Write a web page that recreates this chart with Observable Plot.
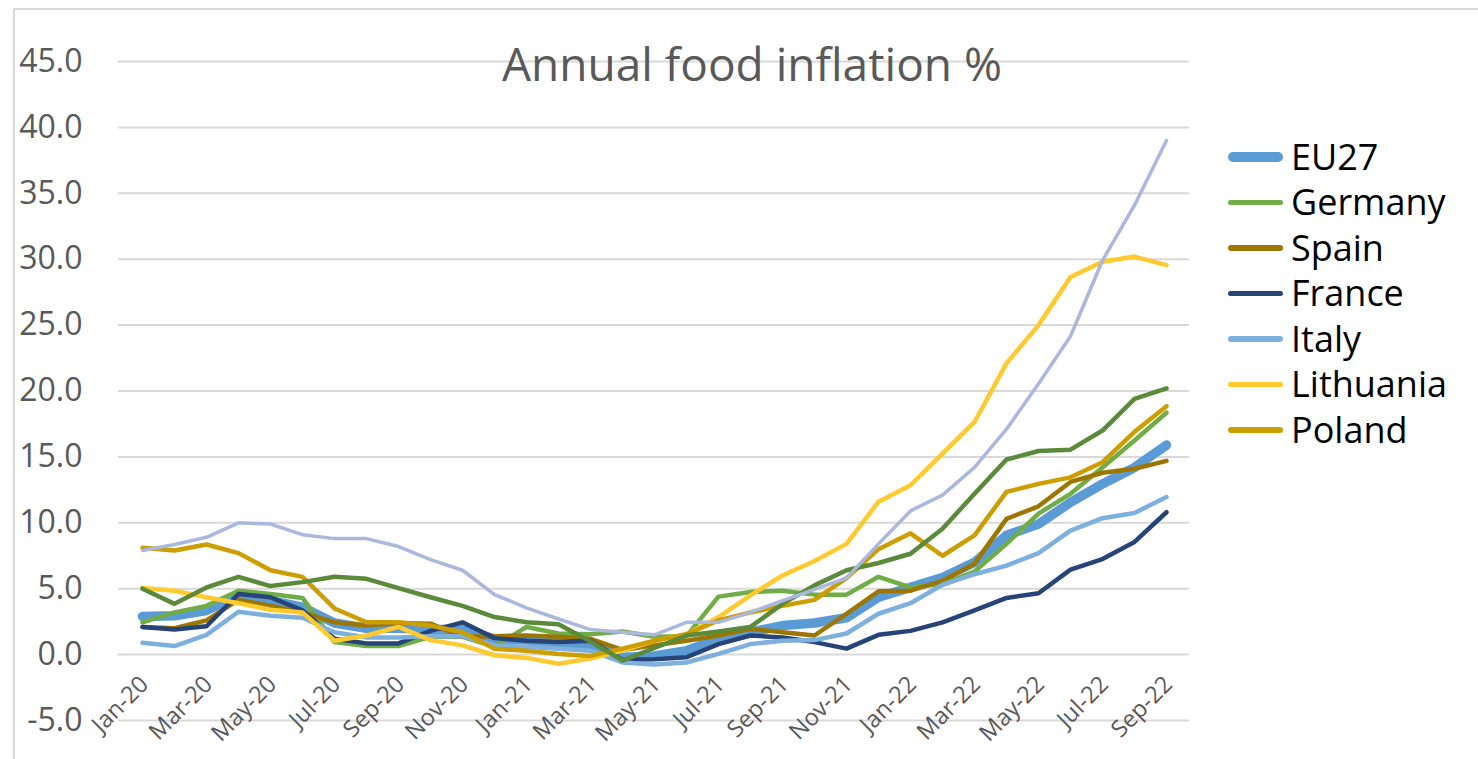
<!DOCTYPE html>
<html>
<head>
<meta charset="utf-8">
<script src="https://cdn.jsdelivr.net/npm/d3@7"></script>
<script src="https://cdn.jsdelivr.net/npm/@observablehq/plot@0.6"></script>
<style>
  html, body { margin: 0; padding: 0; background: #fff; }
  #wrap { position: relative; width: 1478px; height: 759px; overflow: hidden; font-family: "Open Sans", sans-serif; }
  #frame { position: absolute; left: 13px; top: 8px; width: 1500px; height: 800px; border: 2px solid #d9d9d9; box-sizing: border-box; }
  #title { position: absolute; left: 0; width: 1504px; top: 40px; text-align: center; font-size: 46px; line-height: 1; color: #595959; white-space: nowrap; }
  #legend { position: absolute; left: 1228px; top: 134px; }
  .item { display: flex; align-items: center; height: 45.5px; }
  .sw { width: 55px; border-radius: 6px; margin-right: 8px; }
  .lab { font-size: 36px; color: #000; line-height: 1; }
  #chart { position: absolute; left: 0; top: 0; }
</style>
</head>
<body>
<div id="wrap">
  <div id="frame"></div>
  <div id="chart"></div>
  <div id="title">Annual food inflation %</div>
  <div id="legend"></div>
</div>
<script>
const months = ["Jan-20","Feb-20","Mar-20","Apr-20","May-20","Jun-20","Jul-20","Aug-20","Sep-20","Oct-20","Nov-20","Dec-20",
  "Jan-21","Feb-21","Mar-21","Apr-21","May-21","Jun-21","Jul-21","Aug-21","Sep-21","Oct-21","Nov-21","Dec-21",
  "Jan-22","Feb-22","Mar-22","Apr-22","May-22","Jun-22","Jul-22","Aug-22","Sep-22"];
const xTickLabels = ["Jan-20","Mar-20","May-20","Jul-20","Sep-20","Nov-20","Jan-21","Mar-21","May-21","Jul-21","Sep-21","Nov-21","Jan-22","Mar-22","May-22","Jul-22","Sep-22"];
const yTicks = [-5, 0, 5, 10, 15, 20, 25, 30, 35, 40, 45];

const eu27      = [2.9, 2.95, 3.35, 4.5, 4.1, 3.6, 2.4, 2.0, 2.0, 1.9, 1.9, 1.2, 1.1, 0.9, 0.7, -0.2, -0.1, 0.3, 1.2, 1.7, 2.2, 2.4, 2.8, 4.35, 5.1, 5.85, 7.0, 9.05, 9.9, 11.55, 12.95, 14.2, 15.9];
const germany   = [2.45, 3.2, 3.7, 4.85, 4.6, 4.3, 0.95, 0.65, 0.65, 1.35, 1.35, 0.6, 2.1, 1.6, 1.55, 1.75, 1.35, 1.4, 4.4, 4.75, 4.85, 4.55, 4.55, 5.9, 5.1, 5.35, 6.3, 8.4, 10.7, 12.2, 14.2, 16.25, 18.35];
const spain     = [2.1, 2.0, 2.6, 4.15, 3.7, 3.2, 2.45, 2.2, 2.4, 2.35, 1.35, 1.4, 1.45, 1.35, 1.2, 0.35, 0.7, 1.05, 1.45, 1.95, 1.7, 1.45, 3.1, 4.8, 4.85, 5.6, 6.9, 10.3, 11.25, 13.1, 13.8, 14.1, 14.7];
const france    = [2.1, 1.9, 2.15, 4.6, 4.35, 3.35, 1.2, 0.85, 0.85, 1.8, 2.45, 1.25, 1.05, 0.95, 1.05, -0.4, -0.35, -0.2, 0.8, 1.45, 1.3, 0.95, 0.45, 1.5, 1.8, 2.45, 3.35, 4.3, 4.65, 6.45, 7.25, 8.55, 10.8];
const italy     = [0.9, 0.65, 1.5, 3.25, 2.95, 2.8, 1.7, 1.3, 1.3, 1.4, 1.4, 0.7, 0.6, 0.45, 0.3, -0.6, -0.75, -0.6, 0.05, 0.8, 1.05, 1.1, 1.6, 3.1, 3.9, 5.3, 6.1, 6.75, 7.7, 9.4, 10.35, 10.75, 11.95];
const lithuania = [5.05, 4.85, 4.35, 3.9, 3.4, 3.2, 1.05, 1.45, 2.1, 1.1, 0.7, -0.05, -0.25, -0.7, -0.3, 0.3, 1.05, 1.55, 2.85, 4.5, 6.0, 7.1, 8.4, 11.6, 12.85, 15.25, 17.65, 22.1, 25.0, 28.65, 29.8, 30.2, 29.55];
const poland    = [8.1, 7.9, 8.35, 7.7, 6.4, 5.9, 3.5, 2.45, 2.45, 2.2, 1.7, 0.45, 0.3, 0.05, -0.1, 0.45, 1.05, 1.55, 2.6, 3.2, 3.7, 4.15, 5.8, 8.0, 9.2, 7.5, 9.05, 12.35, 12.95, 13.45, 14.6, 16.9, 18.85];
const unlabeledGreen    = [5.0, 3.85, 5.1, 5.9, 5.2, 5.5, 5.9, 5.75, 5.05, 4.35, 3.7, 2.85, 2.45, 2.3, 1.0, -0.45, 0.5, 1.45, 1.75, 2.1, 3.85, 5.25, 6.4, 6.95, 7.65, 9.55, 12.2, 14.8, 15.45, 15.55, 17.0, 19.4, 20.2];
const unlabeledLavender = [7.9, 8.35, 8.9, 10.0, 9.9, 9.1, 8.8, 8.8, 8.2, 7.2, 6.4, 4.55, 3.55, 2.7, 1.9, 1.7, 1.5, 2.45, 2.45, 3.2, 4.1, 4.95, 5.8, 8.4, 10.9, 12.1, 14.2, 17.1, 20.55, 24.15, 29.9, 34.1, 39.0];

const series = [
  {name: "EU27",      values: eu27,      color: "#5b9bd5", width: 9.5, legend: true},
  {name: "Germany",   values: germany,   color: "#70ad47", width: 4.5, legend: true},
  {name: "Spain",     values: spain,     color: "#9c7600", width: 4.5, legend: true},
  {name: "France",    values: france,    color: "#264478", width: 4.5, legend: true},
  {name: "Italy",     values: italy,     color: "#7eb0de", width: 4.5, legend: true},
  {name: "Lithuania", values: lithuania, color: "#ffca2e", width: 4.5, legend: true},
  {name: "Poland",    values: poland,    color: "#cc9e00", width: 4.5, legend: true},
  {name: "Other1",    values: unlabeledGreen,    color: "#5a8a3a", width: 4.5, legend: false},
  {name: "Other2",    values: unlabeledLavender, color: "#aab7de", width: 3.5, legend: false}
];

const lineMarks = series.map(s =>
  Plot.line(months.map((m, i) => ({month: m, value: s.values[i]})), {
    x: "month", y: "value", stroke: s.color, strokeWidth: s.width,
    strokeLinejoin: "round", strokeLinecap: "round"
  })
);

const chart = Plot.plot({
  width: 1478,
  height: 759,
  marginTop: 61,
  marginBottom: 39,
  marginLeft: 118,
  marginRight: 289,
  style: {background: "transparent", fontFamily: "'Open Sans', sans-serif"},
  x: {type: "point", domain: months, padding: 0.5, axis: null, label: null},
  y: {domain: [-5, 45], axis: null, label: null},
  marks: [
    Plot.gridY(yTicks, {stroke: "#d9d9d9", strokeOpacity: 1, strokeWidth: 2}),
    Plot.axisY(yTicks, {tickSize: 0, tickPadding: 36, fontSize: 32, color: "#595959", label: null, tickFormat: d => d.toFixed(1)}),
    Plot.text(xTickLabels, {x: d => d, frameAnchor: "bottom", rotate: -45, textAnchor: "end", lineAnchor: "middle", dy: -40, dx: 2, fontSize: 23.5, fill: "#595959"}),
    ...lineMarks
  ]
});
document.getElementById("chart").appendChild(chart);

const legend = document.getElementById("legend");
series.filter(s => s.legend).forEach(s => {
  const item = document.createElement("div");
  item.className = "item";
  const sw = document.createElement("div");
  sw.className = "sw";
  sw.style.height = (s.width + 1) + "px";
  sw.style.background = s.color;
  const lab = document.createElement("div");
  lab.className = "lab";
  lab.textContent = s.name;
  item.appendChild(sw);
  item.appendChild(lab);
  legend.appendChild(item);
});
</script>
</body>
</html>
